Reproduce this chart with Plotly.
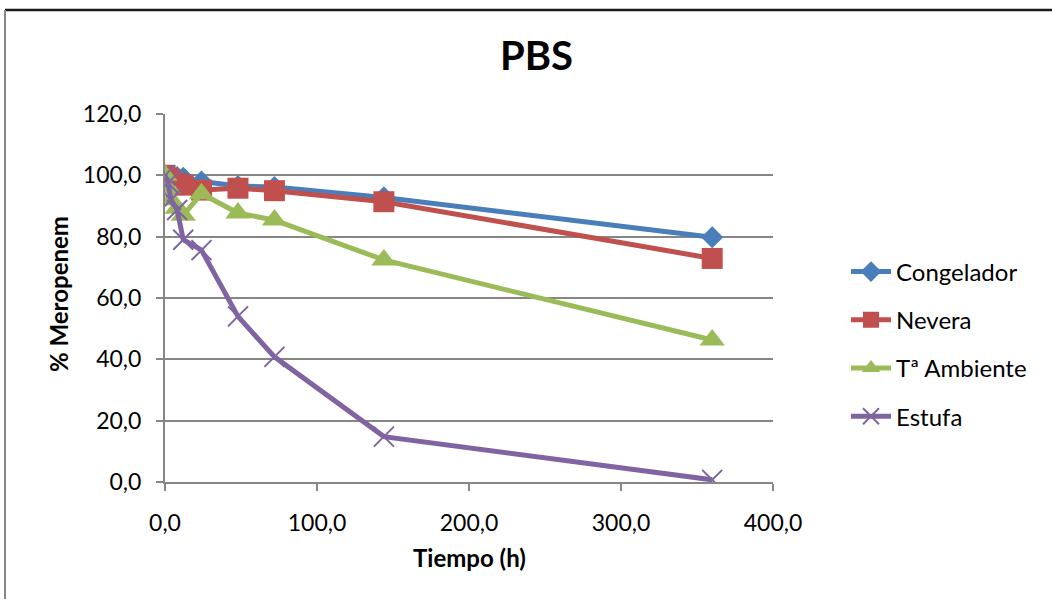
import plotly.graph_objects as go

tiempo = [0, 2, 4, 8, 12, 24, 48, 72, 144, 360]
congelador = [100.0, 99.8, 99.6, 99.4, 99.2, 98.0, 96.5, 96.2, 92.8, 79.8]
nevera = [100.0, 99.0, 98.0, 97.2, 96.8, 95.2, 95.8, 95.0, 91.4, 72.9]
ambiente = [100.0, 96.0, 92.0, 89.3, 87.0, 94.0, 87.7, 85.4, 72.4, 46.3]
estufa = [100.0, 97.5, 92.0, 88.7, 79.0, 75.6, 54.0, 40.8, 14.8, 0.7]

series = [
    ("Congelador", congelador, "#4A7EBB", "diamond", 17, None),
    ("Nevera", nevera, "#C0504D", "square", 21, None),
    ("Tª Ambiente", ambiente, "#9BBB59", "triangle-up", 22, None),
    ("Estufa", estufa, "#8064A2", "x-thin", 20, 2),
]

fig = go.Figure()
for name, vals, color, sym, size, lw in series:
    marker = dict(symbol=sym, size=size, color=color)
    if lw:
        marker["line"] = dict(width=lw, color=color)
    else:
        marker["line"] = dict(width=0)
    fig.add_trace(go.Scatter(
        x=tiempo, y=vals, name=name, mode="lines+markers",
        line=dict(color=color, width=5), marker=marker,
        legendgroup=name,
    ))

FONT = "Lato, 'Open Sans', sans-serif"
L, R, T, B = 165, 773, 114, 482
W, H = 1052, 599

def px_x(p):
    return (p - L) / (R - L)

def px_y(p):
    return (B - p) / (B - T)

fig.update_layout(
    width=W, height=H,
    margin=dict(l=L, r=W - R, t=T, b=H - B),
    paper_bgcolor="white", plot_bgcolor="white",
    font=dict(family=FONT, size=23, color="#000000"),
    xaxis=dict(
        range=[0, 400], tickvals=[0, 100, 200, 300, 400],
        ticktext=["0,0", "100,0", "200,0", "300,0", "400,0"],
        showgrid=False, zeroline=False, showline=True, linecolor="#868686",
        linewidth=2, ticks="outside", ticklen=7, tickcolor="#868686", tickwidth=2,
        ticklabelstandoff=12,
        fixedrange=True,
    ),
    yaxis=dict(
        range=[0, 120], tickvals=[0, 20, 40, 60, 80, 100, 120],
        ticktext=["0,0", "20,0", "40,0", "60,0", "80,0", "100,0", "120,0"],
        showgrid=True, gridcolor="#868686", gridwidth=2, zeroline=False,
        showline=True, linecolor="#868686", linewidth=2,
        ticks="outside", ticklen=7, tickcolor="#868686", tickwidth=2,
        ticklabelstandoff=10,
        fixedrange=True,
    ),
    legend=dict(
        x=px_x(846), y=px_y(344), xanchor="left", yanchor="middle",
        font=dict(size=24), tracegroupgap=14, itemwidth=40,
        bgcolor="rgba(0,0,0,0)",
    ),
    showlegend=True,
    annotations=[
        dict(text="<b>PBS</b>", x=px_x(536), y=px_y(55), xref="paper", yref="paper",
             showarrow=False, font=dict(size=40), xanchor="center", yanchor="middle"),
        dict(text="<b>Tiempo (h)</b>", x=px_x(469), y=px_y(557), xref="paper", yref="paper",
             showarrow=False, font=dict(size=24), xanchor="center", yanchor="middle"),
        dict(text="<b>% Meropenem</b>", x=px_x(58), y=px_y(294), xref="paper", yref="paper",
             showarrow=False, font=dict(size=24), xanchor="center", yanchor="middle",
             textangle=-90),
    ],
    shapes=[
        dict(type="line", xref="paper", yref="paper", x0=px_x(5), x1=px_x(1052),
             y0=px_y(10), y1=px_y(10), line=dict(color="#1a1a1a", width=2.5)),
        dict(type="line", xref="paper", yref="paper", x0=px_x(5), x1=px_x(5),
             y0=px_y(10), y1=px_y(599), line=dict(color="#888888", width=2)),
    ],
)

fig.write_html("out.html")
